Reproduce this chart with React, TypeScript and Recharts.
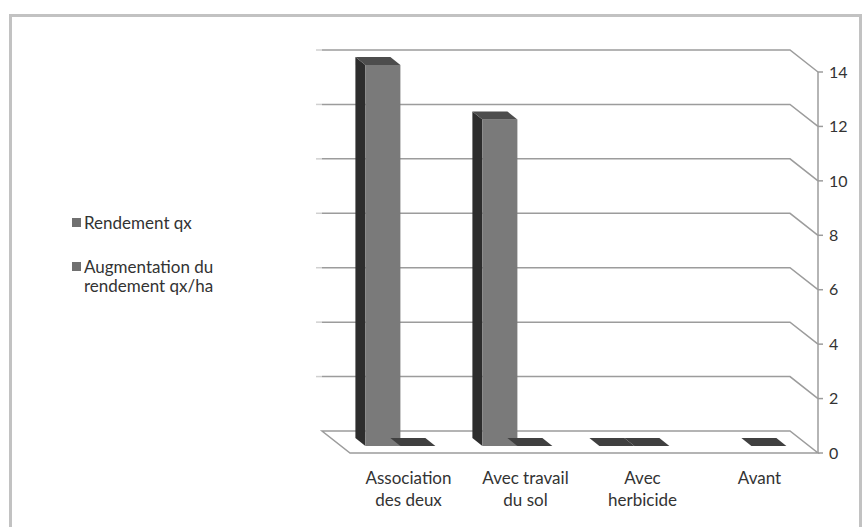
import { BarChart, Bar, XAxis, YAxis, CartesianGrid, Legend } from 'recharts';

const categories = ['Association des deux', 'Avec travail du sol', 'Avec herbicide', 'Avant'];
const rendement = [14, 12, 0, null];
const augmentation = [0, 0, 0, 0];
const yTicks = [0, 2, 4, 6, 8, 10, 12, 14];
const seriesNames = ['Rendement qx', 'Augmentation du rendement qx/ha'];

const data = categories.map((name, i) => ({
  name,
  rendement: rendement[i],
  augmentation: augmentation[i],
}));

const FONT = 'Lato, "Open Sans", sans-serif';
const GRID = '#9c9c9c';

// fake 3d: depth of the floor / walls, and of the bars
const DX = 28;
const DY = 22;
const BX = 8; // bars stand a little behind the front edge
const BY = 7;
const BDX = 10;
const BDY = 8;

function Bar3D(props: any) {
  const { x, y, width, height, payload, k } = props;
  if (x == null || payload == null || payload[k] == null) return null;
  const v = payload[k];
  const fx = x - BX;
  const w = width;
  if (v === 0) {
    // flat slab on the floor
    const fy = y + height - BY;
    const top = `${fx},${fy} ${fx + w},${fy} ${fx + w - BDX},${fy - BDY} ${fx - BDX},${fy - BDY}`;
    return <polygon points={top} fill="#404040" />;
  }
  const fy = y - BY;
  const h = Math.max(height || 0, 0);
  const top = `${fx},${fy} ${fx + w},${fy} ${fx + w - BDX},${fy - BDY} ${fx - BDX},${fy - BDY}`;
  return (
    <g>
      <polygon
        points={`${fx},${fy} ${fx - BDX},${fy - BDY} ${fx - BDX},${fy + h - BDY} ${fx},${fy + h}`}
        fill="#2d2d2d"
      />
      <rect x={fx} y={fy} width={w} height={h} fill="#7a7a7a" />
      <polygon points={top} fill="#4d4d4d" />
    </g>
  );
}

// back wall lines bending to the axis, and the floor for the bottom one
function GridLine3D(props: any) {
  const { x1, y1, x2, y, height } = props;
  const l = Math.min(x1, x2);
  const r = Math.max(x1, x2);
  if (y1 >= y + height - 1) {
    return (
      <polygon
        points={`${l},${y1} ${r},${y1} ${r - DX},${y1 - DY} ${l - DX},${y1 - DY}`}
        fill="#fff"
        stroke={GRID}
        strokeWidth={1.5}
      />
    );
  }
  return (
    <g>
      <line x1={l - DX - 6} y1={y1 - DY} x2={l - DX} y2={y1 - DY} stroke="#d0d0d0" strokeWidth={1.5} />
      <polyline
        points={`${l - DX},${y1 - DY} ${r - DX},${y1 - DY} ${r},${y1}`}
        fill="none"
        stroke={GRID}
        strokeWidth={1.5}
      />
    </g>
  );
}

function wrap(text: string, max: number) {
  const lines: string[] = [];
  let cur = '';
  text.split(' ').forEach((w) => {
    if (cur && (cur + ' ' + w).length > max) {
      lines.push(cur);
      cur = w;
    } else {
      cur = cur ? cur + ' ' + w : w;
    }
  });
  if (cur) lines.push(cur);
  return lines;
}

function CatTick(props: any) {
  const { x, y, payload } = props;
  const lines = wrap(payload.value, 12);
  return (
    <text x={x} y={y + 31} textAnchor="middle" fontFamily={FONT} fontSize={17} fill="#333">
      {lines.map((t, i) => (
        <tspan key={i} x={x} dy={i === 0 ? 0 : 22}>
          {t}
        </tspan>
      ))}
    </text>
  );
}

function LegendBox() {
  return (
    <div style={{ fontFamily: FONT, fontSize: 17, color: '#333', textAlign: 'left' }}>
      {seriesNames.map((n, i) => (
        <div key={n} style={{ display: 'flex', alignItems: 'flex-start', marginBottom: i === 0 ? 25 : 0 }}>
          <span
            style={{ width: 9, height: 9, background: '#707070', marginTop: 5, marginRight: 3, flex: 'none' }}
          />
          <span style={{ width: 150, lineHeight: '19px' }}>{n}</span>
        </div>
      ))}
    </div>
  );
}

export default function App() {
  return (
    <div
      style={{
        position: 'absolute',
        left: 0,
        top: 0,
        width: 865,
        height: 527,
        overflow: 'hidden',
        background: '#fff',
      }}
    >
      <div
        style={{
          position: 'absolute',
          left: 9,
          top: 14,
          width: 853,
          height: 600,
          border: '3px solid #c2c2c2',
          boxSizing: 'border-box',
        }}
      />
      <BarChart
        width={865}
        height={527}
        data={data}
        margin={{ top: 72, right: 0, left: 350, bottom: 14 }}
        barCategoryGap="20%"
        barGap={0}
      >
        <CartesianGrid vertical={false} horizontal={(p: any) => <GridLine3D {...p} />} />
        <XAxis
          dataKey="name"
          axisLine={false}
          tickLine={false}
          tickSize={0}
          tickMargin={0}
          height={60}
          interval={0}
          tick={<CatTick />}
        />
        <YAxis
          orientation="right"
          width={47}
          domain={[0, 14]}
          ticks={yTicks}
          interval={0}
          axisLine={{ stroke: GRID, strokeWidth: 1.5 }}
          tickLine={{ stroke: GRID, strokeWidth: 1.5 }}
          tickSize={5}
          tickMargin={6}
          tick={{ fontFamily: FONT, fontSize: 16, fill: '#333', textAnchor: 'start' }}
        />
        <Legend
          content={() => <LegendBox />}
          layout="horizontal"
          verticalAlign="middle"
          align="center"
          wrapperStyle={{ left: 72, top: 213, width: 180 }}
        />
        <Bar
          dataKey="rendement"
          name={seriesNames[0]}
          fill="#7a7a7a"
          minPointSize={1}
          shape={(p: any) => <Bar3D {...p} k="rendement" />}
          isAnimationActive={false}
        />
        <Bar
          dataKey="augmentation"
          name={seriesNames[1]}
          fill="#7a7a7a"
          minPointSize={1}
          shape={(p: any) => <Bar3D {...p} k="augmentation" />}
          isAnimationActive={false}
        />
      </BarChart>
    </div>
  );
}
